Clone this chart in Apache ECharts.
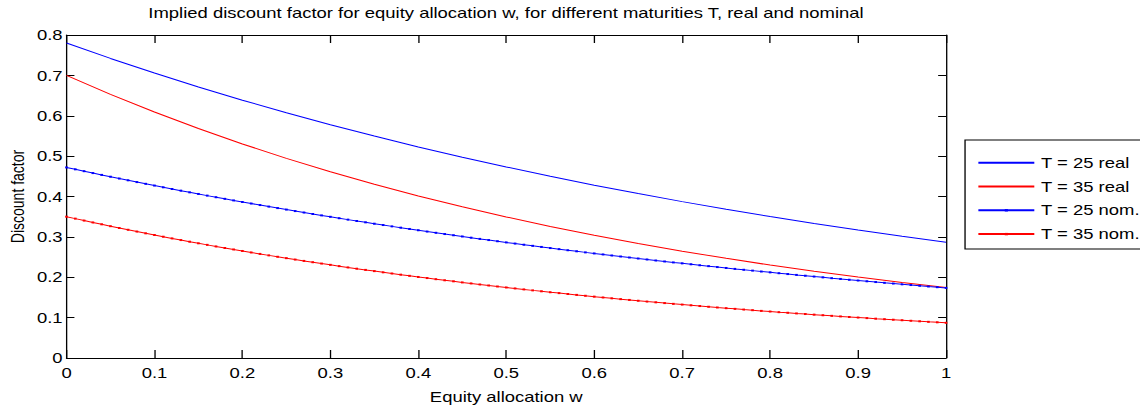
<!DOCTYPE html>
<html>
<head>
<meta charset="utf-8">
<title>Implied discount factor</title>
<script src="https://cdn.jsdelivr.net/npm/echarts@6/dist/echarts.min.js"></script>
<style>
  html, body { margin: 0; padding: 0; background: #fff; overflow: hidden; }
  /* The figure is laid out on a narrower canvas and stretched horizontally,
     which gives the wide lettering of the exported figure. */
  #wrap { position: relative; width: 1140px; height: 408px; overflow: hidden; }
  #chart { width: 864px; height: 408px; transform: scaleX(1.319444); transform-origin: 0 0; }
</style>
</head>
<body>
<div id="wrap"><div id="chart"></div></div>
<script>
// Equity allocation grid for the nominal curves (dotted markers at every step)
const wFine = [
  0.00,0.01,0.02,0.03,0.04,0.05,0.06,0.07,0.08,0.09,
  0.10,0.11,0.12,0.13,0.14,0.15,0.16,0.17,0.18,0.19,
  0.20,0.21,0.22,0.23,0.24,0.25,0.26,0.27,0.28,0.29,
  0.30,0.31,0.32,0.33,0.34,0.35,0.36,0.37,0.38,0.39,
  0.40,0.41,0.42,0.43,0.44,0.45,0.46,0.47,0.48,0.49,
  0.50,0.51,0.52,0.53,0.54,0.55,0.56,0.57,0.58,0.59,
  0.60,0.61,0.62,0.63,0.64,0.65,0.66,0.67,0.68,0.69,
  0.70,0.71,0.72,0.73,0.74,0.75,0.76,0.77,0.78,0.79,
  0.80,0.81,0.82,0.83,0.84,0.85,0.86,0.87,0.88,0.89,
  0.90,0.91,0.92,0.93,0.94,0.95,0.96,0.97,0.98,0.99,
  1.00
];

// Equity allocation grid for the real curves
const wCoarse = [0.00,0.05,0.10,0.15,0.20,0.25,0.30,0.35,0.40,0.45,0.50,
                 0.55,0.60,0.65,0.70,0.75,0.80,0.85,0.90,0.95,1.00];

// Real discount factors
const real25 = [0.7800,0.7420,0.7058,0.6714,0.6386,0.6075,0.5778,0.5497,0.5228,0.4974,0.4731,
                0.4500,0.4281,0.4072,0.3873,0.3684,0.3505,0.3334,0.3171,0.3017,0.2869];
const real35 = [0.7000,0.6530,0.6092,0.5683,0.5301,0.4945,0.4613,0.4303,0.4014,0.3745,0.3494,
                0.3259,0.3040,0.2836,0.2646,0.2468,0.2302,0.2148,0.2004,0.1869,0.1744];

// Nominal discount factors
const nom25 = [
  0.4720,0.4673,0.4627,0.4580,0.4535,0.4490,0.4445,0.4401,0.4357,0.4314,
  0.4271,0.4228,0.4186,0.4145,0.4103,0.4063,0.4022,0.3982,0.3942,0.3903,
  0.3864,0.3826,0.3788,0.3750,0.3713,0.3676,0.3639,0.3603,0.3567,0.3532,
  0.3497,0.3462,0.3427,0.3393,0.3360,0.3326,0.3293,0.3260,0.3228,0.3196,
  0.3164,0.3132,0.3101,0.3070,0.3040,0.3010,0.2980,0.2950,0.2921,0.2892,
  0.2863,0.2834,0.2806,0.2778,0.2751,0.2723,0.2696,0.2669,0.2643,0.2616,
  0.2590,0.2565,0.2539,0.2514,0.2489,0.2464,0.2440,0.2415,0.2391,0.2367,
  0.2344,0.2321,0.2297,0.2275,0.2252,0.2230,0.2207,0.2185,0.2164,0.2142,
  0.2121,0.2100,0.2079,0.2058,0.2038,0.2017,0.1997,0.1977,0.1958,0.1938,
  0.1919,0.1900,0.1881,0.1862,0.1844,0.1825,0.1807,0.1789,0.1771,0.1754,
  0.1736
];
const nom35 = [
  0.3500,0.3452,0.3404,0.3357,0.3311,0.3265,0.3220,0.3176,0.3132,0.3088,
  0.3046,0.3004,0.2962,0.2921,0.2881,0.2841,0.2802,0.2763,0.2725,0.2688,
  0.2651,0.2614,0.2578,0.2542,0.2507,0.2473,0.2438,0.2405,0.2372,0.2339,
  0.2307,0.2275,0.2243,0.2212,0.2182,0.2152,0.2122,0.2093,0.2064,0.2035,
  0.2007,0.1980,0.1952,0.1925,0.1899,0.1872,0.1847,0.1821,0.1796,0.1771,
  0.1747,0.1723,0.1699,0.1675,0.1652,0.1629,0.1607,0.1585,0.1563,0.1541,
  0.1520,0.1499,0.1478,0.1458,0.1438,0.1418,0.1398,0.1379,0.1360,0.1341,
  0.1323,0.1305,0.1287,0.1269,0.1251,0.1234,0.1217,0.1200,0.1184,0.1167,
  0.1151,0.1135,0.1120,0.1104,0.1089,0.1074,0.1059,0.1044,0.1030,0.1016,
  0.1002,0.0988,0.0974,0.0961,0.0948,0.0935,0.0922,0.0909,0.0896,0.0884,
  0.0872
];

const seriesNames = ['T = 25 real', 'T = 35 real', 'T = 25 nom.', 'T = 35 nom.'];

const FONT = '"Liberation Sans", Arial, Helvetica, sans-serif';
const BLUE = '#0000ff';
const RED = '#ff0000';

const pairs = (xs, ys) => xs.map((x, i) => [x, ys[i]]);

const chart = echarts.init(document.getElementById('chart'), null, { renderer: 'svg' });

const xTick = { show: true, inside: true, length: 8, lineStyle: { color: '#000', width: 1 } };
const yTick = { show: true, inside: true, length: 6, lineStyle: { color: '#000', width: 1 } };
const boxLine = { show: true, onZero: false, lineStyle: { color: '#000', width: 1 } };

const realLine = (name, xs, ys, color) => ({
  name, type: 'line', data: pairs(xs, ys),
  symbol: 'none', lineStyle: { color, width: 1 }, itemStyle: { color },
  emphasis: { disabled: true }, z: 3
});
const nomLine = (name, xs, ys, color) => ({
  name, type: 'line', data: pairs(xs, ys),
  symbol: 'rect', symbolSize: [2, 2], showSymbol: true, showAllSymbol: true,
  lineStyle: { color, width: 1 }, itemStyle: { color },
  emphasis: { disabled: true }, z: 4
});

chart.setOption({
  animation: false,
  backgroundColor: '#fff',
  textStyle: { fontFamily: FONT, color: '#000' },
  title: {
    text: 'Implied discount factor for equity allocation w, for different maturities T, real and nominal',
    left: 383.5, top: 6, textAlign: 'center', padding: 0,
    textStyle: { fontFamily: FONT, fontSize: 14, fontWeight: 'normal', color: '#000' }
  },
  grid: { left: 50.4, right: 147, top: 35, bottom: 50, containLabel: false, outerBoundsMode: 'none' },
  legend: {
    orient: 'vertical',
    left: 731.4, top: 140,
    data: [
      { name: seriesNames[0], itemStyle: { opacity: 0 } },
      { name: seriesNames[1], itemStyle: { opacity: 0 } },
      { name: seriesNames[2] },
      { name: seriesNames[3] }
    ],
    itemWidth: 42.4, itemHeight: 3, itemGap: 9.8,
    padding: [15.7, 2, 7.9, 9.1],
    borderColor: '#000', borderWidth: 1, backgroundColor: '#fff',
    textStyle: { fontFamily: FONT, fontSize: 14, lineHeight: 14, color: '#000' },
    selectedMode: false
  },
  xAxis: [
    {
      type: 'value', min: 0, max: 1, interval: 0.1, position: 'bottom',
      name: 'Equity allocation w', nameLocation: 'middle', nameGap: 32,
      nameTextStyle: { fontFamily: FONT, fontSize: 14, color: '#000' },
      axisLine: boxLine, axisTick: xTick,
      axisLabel: { fontFamily: FONT, fontSize: 14, color: '#000', margin: 8 },
      splitLine: { show: false }
    },
    {
      type: 'value', min: 0, max: 1, interval: 0.1, position: 'top',
      axisLine: boxLine, axisTick: xTick,
      axisLabel: { show: false }, splitLine: { show: false }
    }
  ],
  yAxis: [
    {
      type: 'value', min: 0, max: 0.8, interval: 0.1, position: 'left',
      name: 'Discount factor', nameLocation: 'middle', nameGap: 30.5, nameRotate: 90,
      nameMoveOverlap: false,
      nameTextStyle: { fontFamily: FONT, fontSize: 14, color: '#000' },
      axisLine: boxLine, axisTick: yTick,
      axisLabel: { fontFamily: FONT, fontSize: 14, color: '#000', margin: 3 },
      splitLine: { show: false }
    },
    {
      type: 'value', min: 0, max: 0.8, interval: 0.1, position: 'right',
      axisLine: boxLine, axisTick: yTick,
      axisLabel: { show: false }, splitLine: { show: false }
    }
  ],
  series: [
    realLine(seriesNames[0], wCoarse, real25, BLUE),
    realLine(seriesNames[1], wCoarse, real35, RED),
    nomLine(seriesNames[2], wFine, nom25, BLUE),
    nomLine(seriesNames[3], wFine, nom35, RED)
  ]
});
</script>
</body>
</html>
